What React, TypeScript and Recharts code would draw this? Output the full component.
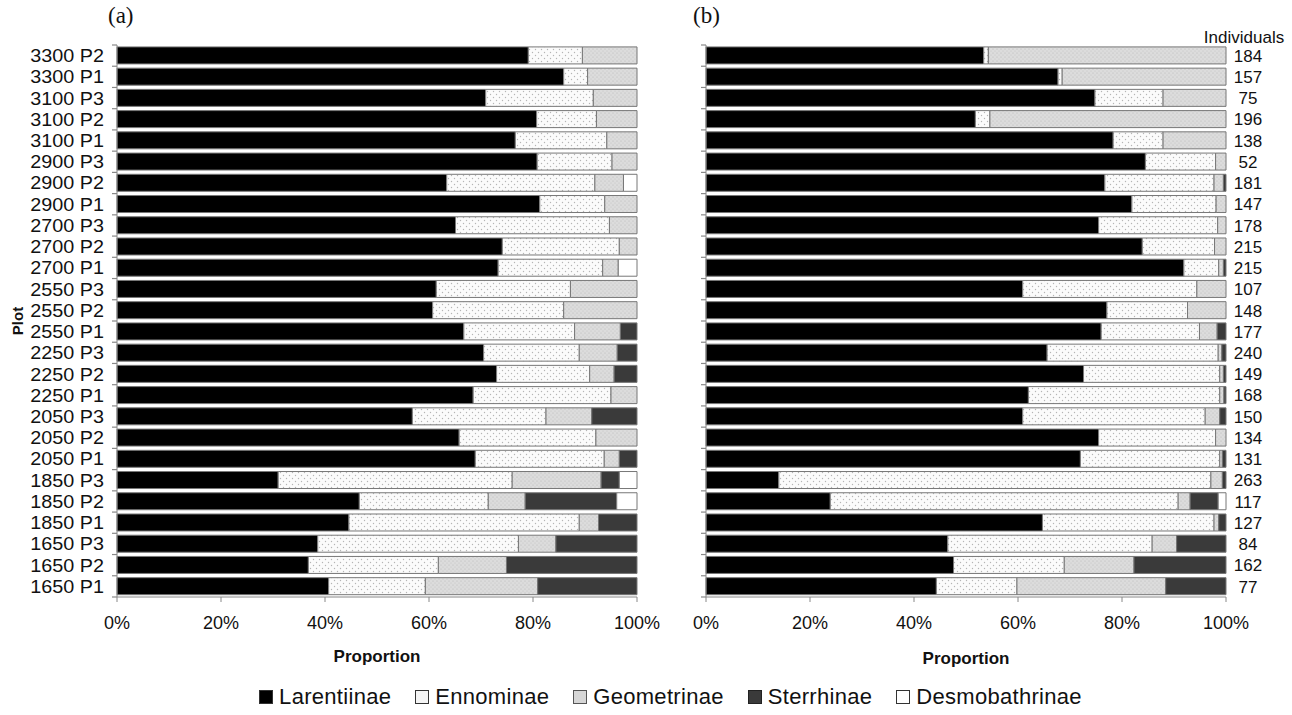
import React from 'react';
import { BarChart, Bar, XAxis, YAxis, Legend } from 'recharts';

const categories = [
  '3300 P2', '3300 P1', '3100 P3', '3100 P2', '3100 P1', '2900 P3', '2900 P2', '2900 P1',
  '2700 P3', '2700 P2', '2700 P1', '2550 P3', '2550 P2', '2550 P1', '2250 P3', '2250 P2',
  '2250 P1', '2050 P3', '2050 P2', '2050 P1', '1850 P3', '1850 P2', '1850 P1', '1650 P3',
  '1650 P2', '1650 P1',
];
const individuals = [184, 157, 75, 196, 138, 52, 181, 147, 178, 215, 215, 107, 148, 177, 240, 149, 168, 150, 134, 131, 263, 117, 127, 84, 162, 77];

const seriesNames = ['Larentiinae', 'Ennominae', 'Geometrinae', 'Sterrhinae', 'Desmobathrinae'];
const xTicks = [0, 20, 40, 60, 80, 100];

// Panel (a) proportions (%)
const aLarentiinae = [79.1, 85.9, 70.9, 80.7, 76.6, 80.8, 63.4, 81.3, 65.1, 74.1, 73.3, 61.4, 60.7, 66.7, 70.5, 73.0, 68.5, 56.8, 65.8, 68.9, 31.0, 46.6, 44.6, 38.6, 36.8, 40.7];
const aEnnominae = [10.4, 4.6, 20.7, 11.5, 17.6, 14.4, 28.5, 12.5, 29.6, 22.5, 20.1, 25.8, 25.2, 21.3, 18.4, 17.9, 26.5, 25.7, 26.3, 24.8, 45.0, 24.8, 44.3, 38.6, 25.0, 18.6];
const aGeometrinae = [10.5, 9.5, 8.4, 7.8, 5.8, 4.8, 5.5, 6.2, 5.3, 3.4, 3.0, 12.8, 14.1, 8.8, 7.3, 4.7, 5.0, 8.8, 7.9, 2.9, 17.1, 7.1, 3.7, 7.2, 13.1, 21.6];
const aSterrhinae = [0, 0, 0, 0, 0, 0, 0, 0, 0, 0, 0, 0, 0, 3.2, 3.8, 4.4, 0, 8.7, 0, 3.4, 3.5, 17.6, 7.4, 15.6, 25.1, 19.1];
const aDesmobathrinae = [0, 0, 0, 0, 0, 0, 2.6, 0, 0, 0, 3.6, 0, 0, 0, 0, 0, 0, 0, 0, 0, 3.4, 3.9, 0, 0, 0, 0];

// Panel (b) proportions (%)
const bLarentiinae = [53.4, 67.7, 74.8, 51.8, 78.3, 84.5, 76.7, 81.9, 75.5, 83.9, 91.9, 60.9, 77.1, 76.0, 65.6, 72.6, 62.0, 60.9, 75.5, 72.0, 14.0, 23.9, 64.7, 46.5, 47.6, 44.3];
const bEnnominae = [0.9, 0.8, 13.1, 2.8, 9.6, 13.5, 21.0, 16.2, 22.9, 13.9, 6.7, 33.5, 15.5, 18.9, 32.9, 26.2, 36.8, 35.1, 22.5, 26.8, 83.1, 66.9, 33.0, 39.3, 21.3, 15.5];
const bGeometrinae = [45.7, 31.5, 12.1, 45.4, 12.1, 2.0, 1.8, 1.9, 1.6, 2.2, 0.9, 5.6, 7.4, 3.4, 0.7, 0.7, 0.8, 2.8, 2.0, 0.5, 2.2, 2.3, 0.9, 4.7, 13.4, 28.6];
const bSterrhinae = [0, 0, 0, 0, 0, 0, 0.5, 0, 0, 0, 0.5, 0, 0, 1.7, 0.8, 0.5, 0.4, 1.2, 0, 0.7, 0.7, 5.4, 1.4, 9.5, 17.7, 11.6];
const bDesmobathrinae = [0, 0, 0, 0, 0, 0, 0, 0, 0, 0, 0, 0, 0, 0, 0, 0, 0, 0, 0, 0, 0, 1.5, 0, 0, 0, 0];

const keys = ['lar', 'enn', 'geo', 'ste', 'des'];

function buildRows(l: number[], e: number[], g: number[], s: number[], d: number[]) {
  return categories.map((c, i) => ({ plot: c, n: individuals[i], lar: l[i], enn: e[i], geo: g[i], ste: s[i], des: d[i] }));
}
const dataA = buildRows(aLarentiinae, aEnnominae, aGeometrinae, aSterrhinae, aDesmobathrinae);
const dataB = buildRows(bLarentiinae, bEnnominae, bGeometrinae, bSterrhinae, bDesmobathrinae);

const FONT = '"Liberation Sans", Arial, Helvetica, sans-serif';
const PLOT_TOP = 45;
const PLOT_BOTTOM = 597;
const BAND = (PLOT_BOTTOM - PLOT_TOP) / categories.length;
const CHART_H = 715;
const X_AXIS_H = 70;
const MARGIN_BOTTOM = CHART_H - PLOT_BOTTOM - X_AXIS_H;

const swatches = [
  { fill: '#000000', stroke: '#333' },
  { fill: '#f4f4f4', stroke: '#333' },
  { fill: '#d6d6d6', stroke: '#555' },
  { fill: '#3a3a3a', stroke: '#222' },
  { fill: '#ffffff', stroke: '#333' },
];

function Patterns({ suffix }: { suffix: string }) {
  return (
    <defs>
      <pattern id={`pE${suffix}`} width="6" height="6" patternUnits="userSpaceOnUse">
        <rect width="6" height="6" fill="#fbfbfb" />
        <circle cx="1.5" cy="1.5" r="0.7" fill="#b5b5b5" />
        <circle cx="4.5" cy="4.5" r="0.7" fill="#b5b5b5" />
      </pattern>
      <pattern id={`pG${suffix}`} width="4" height="4" patternUnits="userSpaceOnUse">
        <rect width="4" height="4" fill="#dcdcdc" />
        <circle cx="1" cy="1" r="0.6" fill="#b8b8b8" />
        <circle cx="3" cy="3" r="0.6" fill="#c4c4c4" />
      </pattern>
    </defs>
  );
}

function fillsFor(suffix: string) {
  return ['#000000', `url(#pE${suffix})`, `url(#pG${suffix})`, '#3a3a3a', '#ffffff'];
}

const PlotTick = (props: any) => {
  const { x, y, payload, index } = props;
  return (
    <g>
      <line x1={x - 5} x2={x} y1={y - BAND / 2} y2={y - BAND / 2} stroke="#888" strokeWidth={1.2} />
      {index === categories.length - 1 && (
        <line x1={x - 5} x2={x} y1={y + BAND / 2} y2={y + BAND / 2} stroke="#888" strokeWidth={1.2} />
      )}
      <text
        transform={`translate(${x - 13},${y}) scale(1.1,1)`}
        x={0}
        y={0}
        dy="0.36em"
        textAnchor="end"
        fontSize={18}
        fill="#111"
        fontFamily={FONT}
      >
        {payload.value}
      </text>
    </g>
  );
};

const LineTick = (props: any) => {
  const { x, y, index } = props;
  return (
    <g>
      <line x1={x - 5} x2={x} y1={y - BAND / 2} y2={y - BAND / 2} stroke="#888" strokeWidth={1.2} />
      {index === categories.length - 1 && (
        <line x1={x - 5} x2={x} y1={y + BAND / 2} y2={y + BAND / 2} stroke="#888" strokeWidth={1.2} />
      )}
    </g>
  );
};

const NumTick = (props: any) => {
  const { x, y, payload } = props;
  return (
    <text x={x + 22} y={y} dy="0.36em" textAnchor="middle" fontSize={17} fill="#111" fontFamily={FONT}>
      {payload.value}
    </text>
  );
};

const renderLegend = (props: any) => {
  const payload = [...(props.payload || [])].sort(
    (p: any, q: any) => seriesNames.indexOf(p.value) - seriesNames.indexOf(q.value)
  );
  return (
    <div style={{ display: 'flex', justifyContent: 'center', alignItems: 'center', fontFamily: FONT, fontSize: 22, letterSpacing: 0.3, color: '#111' }}>
      {payload.map((entry: any, i: number) => {
        const idx = seriesNames.indexOf(entry.value);
        const sw = swatches[idx >= 0 ? idx : i];
        return (
          <span key={entry.value} style={{ display: 'inline-flex', alignItems: 'center', marginRight: 24 }}>
            <svg width={14} height={14} style={{ marginRight: 6 }}>
              <rect x={0.5} y={0.5} width={13} height={13} fill={sw.fill} stroke={sw.stroke} strokeWidth={1} />
            </svg>
            <span>{entry.value}</span>
          </span>
        );
      })}
    </div>
  );
};

const axisTick = { fontSize: 18, fill: '#111', fontFamily: FONT };
const boldLabel = { fontSize: 17, fontWeight: 'bold', fill: '#111', fontFamily: FONT };

export default function App() {
  const fa = fillsFor('a');
  const fb = fillsFor('b');
  return (
    <div style={{ position: 'absolute', left: 0, top: 0, width: 1292, height: 715, background: '#fff' }}>
      <div style={{ position: 'absolute', left: 108, top: 3, fontFamily: '"Liberation Serif", serif', fontSize: 23, color: '#111' }}>(a)</div>
      <div style={{ position: 'absolute', left: 693, top: 3, fontFamily: '"Liberation Serif", serif', fontSize: 23, color: '#111' }}>(b)</div>

      <div style={{ position: 'absolute', left: 0, top: 0 }}>
        <BarChart
          width={660}
          height={CHART_H}
          data={dataA}
          layout="vertical"
          margin={{ top: PLOT_TOP, right: 23, bottom: MARGIN_BOTTOM, left: 0 }}
          barCategoryGap="9%"
        >
          <Patterns suffix="a" />
          <XAxis
            type="number"
            domain={[0, 100]}
            ticks={xTicks}
            tickFormatter={(v: number) => `${v}%`}
            height={X_AXIS_H}
            tick={axisTick}
            tickSize={5}
            tickMargin={14}
            stroke="#888"
            label={{ value: 'Proportion', position: 'insideBottom', offset: 5, style: boldLabel }}
          />
          <YAxis
            type="category"
            dataKey="plot"
            width={117}
            tick={<PlotTick />}
            tickLine={false}
            tickSize={0}
            tickMargin={0}
            interval={0}
            stroke="#888"
            label={{ value: 'Plot', angle: -90, position: 'center', dx: -41, style: { ...boldLabel, fontSize: 15 } }}
          />
          {keys.map((k, i) => (
            <Bar key={k} dataKey={k} name={seriesNames[i]} stackId="s" fill={fa[i]} stroke="#777" strokeWidth={1} isAnimationActive={false} />
          ))}
          <Legend
            layout="horizontal"
            verticalAlign="middle"
            align="center"
            content={renderLegend}
            wrapperStyle={{ position: 'absolute', left: 0, top: 684, width: 1365, height: 28 }}
          />
        </BarChart>
      </div>

      <div style={{ position: 'absolute', left: 680, top: 0 }}>
        <BarChart
          width={612}
          height={CHART_H}
          data={dataB}
          layout="vertical"
          margin={{ top: PLOT_TOP, right: 0, bottom: MARGIN_BOTTOM, left: 0 }}
          barCategoryGap="9%"
        >
          <Patterns suffix="b" />
          <XAxis
            type="number"
            domain={[0, 100]}
            ticks={xTicks}
            tickFormatter={(v: number) => `${v}%`}
            height={X_AXIS_H}
            tick={axisTick}
            tickSize={5}
            tickMargin={14}
            stroke="#888"
            label={{ value: 'Proportion', position: 'insideBottom', offset: 3, style: boldLabel }}
          />
          <YAxis
            type="category"
            dataKey="plot"
            width={26}
            tick={<LineTick />}
            tickLine={false}
            tickSize={0}
            tickMargin={0}
            interval={0}
            stroke="#888"
          />
          <YAxis
            yAxisId="n"
            orientation="right"
            type="category"
            dataKey="n"
            width={66}
            tick={<NumTick />}
            tickLine={false}
            axisLine={false}
            tickSize={0}
            tickMargin={0}
            interval={0}
            label={{ value: 'Individuals', position: 'top', offset: 2, dx: -15, style: { fontSize: 17, fill: '#111', fontFamily: FONT } }}
          />
          {keys.map((k, i) => (
            <Bar key={k} dataKey={k} name={seriesNames[i]} stackId="s" fill={fb[i]} stroke="#777" strokeWidth={1} isAnimationActive={false} />
          ))}
        </BarChart>
      </div>
    </div>
  );
}
